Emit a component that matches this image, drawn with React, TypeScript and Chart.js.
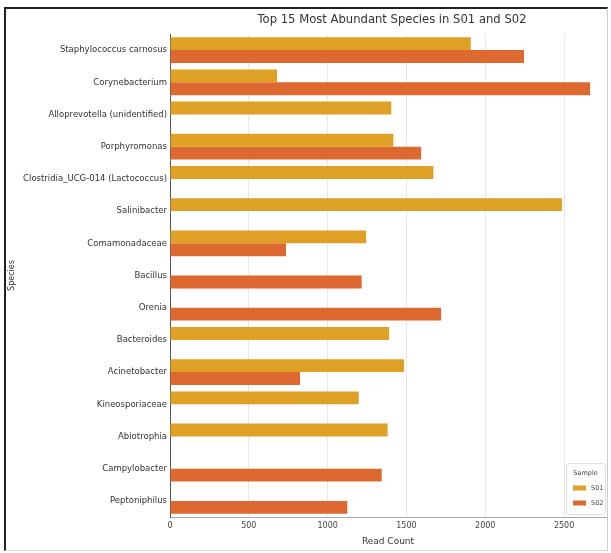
import { useEffect, useRef } from "react";
import { Chart, registerables } from "chart.js";

Chart.register(...registerables);

const titleText = "Top 15 Most Abundant Species in S01 and S02";
const categories = [
  "Staphylococcus carnosus",
  "Corynebacterium",
  "Alloprevotella (unidentified)",
  "Porphyromonas",
  "Clostridia_UCG-014 (Lactococcus)",
  "Salinibacter",
  "Comamonadaceae",
  "Bacillus",
  "Orenia",
  "Bacteroides",
  "Acinetobacter",
  "Kineosporiaceae",
  "Abiotrophia",
  "Campylobacter",
  "Peptoniphilus",
];
const s01Values = [1908, 679, 1404, 1417, 1671, 2487, 1244, null, null, 1390, 1485, 1197, 1381, null, null];
const s02Values = [2246, 2665, null, 1593, null, null, 736, 1216, 1720, null, 825, null, null, 1343, 1125];
const seriesNames = ["S01", "S02"];
const seriesColors = ["#DFA125", "#DD6930"];
const xTicks = [0, 500, 1000, 1500, 2000, 2500];
const xMax = 2766;
const legendTitle = "Sample";

const FONT = '"DejaVu Sans", sans-serif';

export default function App() {
  const ref = useRef<HTMLCanvasElement>(null);
  useEffect(() => {
    if (!ref.current) return;
    const titlePlugin = {
      id: "customTitle",
      afterDraw(chart: any) {
        const { ctx, chartArea } = chart;
        ctx.save();
        ctx.font = `11.6px ${FONT}`;
        ctx.fillStyle = "#333";
        ctx.textAlign = "center";
        ctx.textBaseline = "middle";
        ctx.fillText(titleText, (chartArea.left + chartArea.right) / 2 + 4, 11);
        ctx.restore();
      },
    };
    const legendPlugin = {
      id: "customLegend",
      afterDraw(chart: any) {
        const { ctx, chartArea } = chart;
        const bx = chartArea.right - 40;
        const by = chartArea.bottom - 54;
        const bw = 39;
        const bh = 51;
        ctx.save();
        ctx.fillStyle = "rgba(255,255,255,0.85)";
        ctx.strokeStyle = "#dddddd";
        ctx.lineWidth = 1;
        ctx.beginPath();
        ctx.roundRect(bx + 0.5, by + 0.5, bw, bh, 3);
        ctx.fill();
        ctx.stroke();
        ctx.font = `6.5px ${FONT}`;
        ctx.fillStyle = "#444";
        ctx.textAlign = "center";
        ctx.textBaseline = "middle";
        ctx.fillText(legendTitle, bx + bw / 2, by + 10);
        ctx.textAlign = "left";
        chart.data.datasets.forEach((ds: any, i: number) => {
          const y = by + 25 + i * 15;
          ctx.fillStyle = ds.backgroundColor;
          ctx.fillRect(bx + 7, y - 2.5, 13, 5);
          ctx.fillStyle = "#444";
          ctx.fillText(ds.label, bx + 25, y);
        });
        ctx.restore();
      },
    };
    const chart = new Chart(ref.current, {
      type: "bar",
      data: {
        labels: categories,
        datasets: [
          {
            label: seriesNames[0],
            data: s01Values,
            backgroundColor: seriesColors[0],
            categoryPercentage: 0.8,
            barPercentage: 1.0,
          },
          {
            label: seriesNames[1],
            data: s02Values,
            backgroundColor: seriesColors[1],
            categoryPercentage: 0.8,
            barPercentage: 1.0,
          },
        ],
      },
      options: {
        indexAxis: "y",
        animation: false,
        responsive: false,
        layout: { padding: { top: 25, right: 1, left: 0, bottom: 0 } },
        plugins: {
          legend: { display: false },
          title: { display: false },
          tooltip: { enabled: false },
        },
        scales: {
          x: {
            min: 0,
            max: xMax,
            afterBuildTicks: (s: any) => {
              s.ticks = xTicks.map((v) => ({ value: v }));
            },
            afterFit: (s: any) => {
              s.height = 33;
            },
            grid: { color: "#e8e8e8", drawTicks: false },
            border: { color: "#aaaaaa" },
            ticks: {
              font: { family: FONT, size: 8 },
              color: "#444",
              padding: 4,
              callback: (v: any) => String(v),
            },
            title: {
              display: true,
              text: "Read Count",
              font: { family: FONT, size: 9 },
              color: "#333",
              padding: { top: 0, bottom: 3 },
            },
          },
          y: {
            afterFit: (s: any) => {
              s.width = 164;
            },
            grid: { display: false, drawTicks: false, tickLength: 0 },
            border: { color: "#555" },
            ticks: { font: { family: FONT, size: 8.5 }, color: "#333", padding: 3, autoSkip: false },
            title: {
              display: true,
              text: "Species",
              font: { family: FONT, size: 8 },
              color: "#333",
              padding: { top: 1, bottom: 0 },
            },
          },
        },
      },
      plugins: [titlePlugin, legendPlugin],
    } as any);
    return () => chart.destroy();
  }, []);
  return (
    <div
      style={{
        position: "fixed",
        left: 4,
        top: 7,
        width: 601,
        height: 541,
        borderLeft: "2px solid #222",
        borderTop: "2px solid #222",
        borderRight: "1px solid #cccccc",
        borderBottom: "1px solid #dddddd",
        background: "#fff",
      }}
    >
      <canvas ref={ref} width={601} height={541} style={{ display: "block" }} />
    </div>
  );
}
